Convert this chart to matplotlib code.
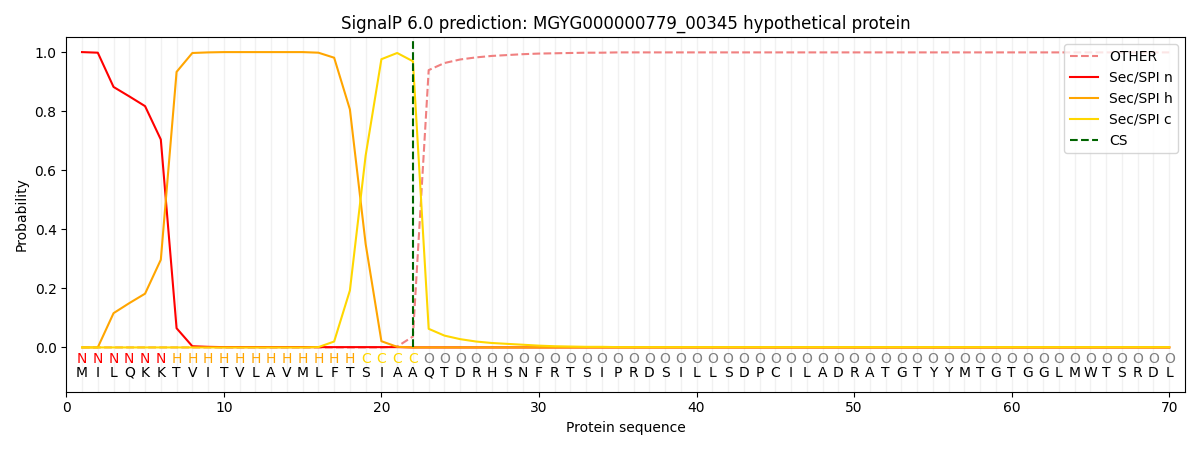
import matplotlib
matplotlib.use("Agg")
import matplotlib.pyplot as plt
import numpy as np

sequence = list("MILQKKTVITVLAVMLFTSIAAQTDRHSNFRTSIPRDSILLSDPCILADRATGTYYMTGTGGLMWTSRDL")
labels = list("NNNNNNHHHHHHHHHHHHCCCCOOOOOOOOOOOOOOOOOOOOOOOOOOOOOOOOOOOOOOOOOOOOOOOO")
n = len(sequence)
positions = np.arange(1, n + 1)

sp_n = [1.0, 0.998, 0.882, 0.85, 0.817, 0.704, 0.065, 0.004, 0.002, 0.001,
        0.001, 0.001, 0.001, 0.001, 0.001, 0.001, 0.001, 0.001, 0.001, 0.001,
        0.001, 0.0] + [0.0] * 48
sp_h = [0.0, 0.0, 0.116, 0.15, 0.182, 0.297, 0.933, 0.997, 0.999, 1.0,
        1.0, 1.0, 1.0, 1.0, 1.0, 0.998, 0.981, 0.806, 0.35, 0.021,
        0.002, 0.0] + [0.0] * 48
sp_c = [0.0, 0.0, 0.0, 0.0, 0.0, 0.0, 0.0, 0.0, 0.0, 0.0,
        0.0, 0.0, 0.0, 0.0, 0.0, 0.001, 0.02, 0.193, 0.65, 0.976,
        0.997, 0.969, 0.063, 0.04, 0.028, 0.02, 0.015, 0.012, 0.009, 0.006,
        0.004, 0.003, 0.002, 0.002, 0.001] + [0.001] * 35
other = [0.0] * 20 + [0.003, 0.037, 0.939, 0.963, 0.975, 0.982, 0.987, 0.99, 0.993, 0.995,
         0.996, 0.997, 0.998, 0.998, 0.999] + [0.999] * 35
cs_pos = 22

label_colors = {"N": "red", "H": "orange", "C": "gold", "O": "grey"}

fig, ax = plt.subplots(figsize=(12, 4.5), dpi=100)
for p in positions:
    ax.axvline(p, color="#e8e8e8", lw=1, alpha=0.6, zorder=0)

ax.plot(positions, other, color="lightcoral", ls="--", lw=1.5, label="OTHER")
ax.plot(positions, sp_n, color="red", lw=1.5, label="Sec/SPI n")
ax.plot(positions, sp_h, color="orange", lw=1.5, label="Sec/SPI h")
ax.plot(positions, sp_c, color="gold", lw=1.5, label="Sec/SPI c")
ax.plot([cs_pos, cs_pos], [0, 1.05], color="darkgreen", ls="--", lw=1.5, label="CS")

for p, aa, lab in zip(positions, sequence, labels):
    ax.text(p, -0.04, lab, color=label_colors[lab], ha="center", va="center", fontsize=10)
    ax.text(p, -0.085, aa, color="black", ha="center", va="center", fontsize=10)

ax.set_xlim(0, 71)
ax.set_ylim(-0.15, 1.05)
ax.set_xlabel("Protein sequence")
ax.set_ylabel("Probability")
ax.set_title("SignalP 6.0 prediction: MGYG000000779_00345 hypothetical protein")
ax.legend(loc="upper right")
fig.tight_layout()
fig.savefig("out.png")
